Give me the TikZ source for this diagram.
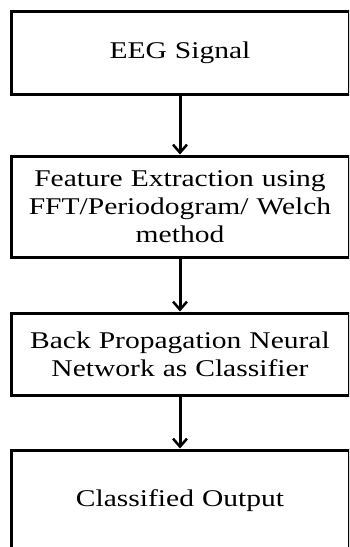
\documentclass[tikz,border=0pt]{standalone}
\usepackage{fontspec}
\setmainfont{Liberation Serif}[FakeStretch=1.23]
\usetikzlibrary{arrows.meta}
\tikzset{
    stage/.style={draw, line width=3pt, minimum width=338pt, text width=330pt,
        align=center, inner sep=0pt, font=\fontsize{24}{28}\selectfont},
    flow/.style={line width=3pt, -{Straight Barb[length=8pt,width=14pt,line width=2.5pt]}}
}
\begin{document}
\begin{tikzpicture}[x=1pt,y=1pt]
        \useasboundingbox (0,0) rectangle (349,-547);
        \clip (0,0) rectangle (349,-547);
        \node[stage, minimum height=83pt] (eeg) at (180,-52.5) {EEG Signal};
        \node[stage, minimum height=101pt] (feat) at (180,-206.5) {Feature Extraction using\\FFT/Periodogram/ Welch\\method};
        \node[stage, minimum height=82pt] (bpnn) at (180,-354) {Back Propagation Neural\\Network as Classifier};
        \node[stage, minimum height=102pt] (out) at (180,-501) {Classified Output};
        \draw[flow] (eeg) -- (feat);
        \draw[flow] (feat) -- (bpnn);
        \draw[flow] (bpnn) -- (out);
    \end{tikzpicture}
\end{document}
